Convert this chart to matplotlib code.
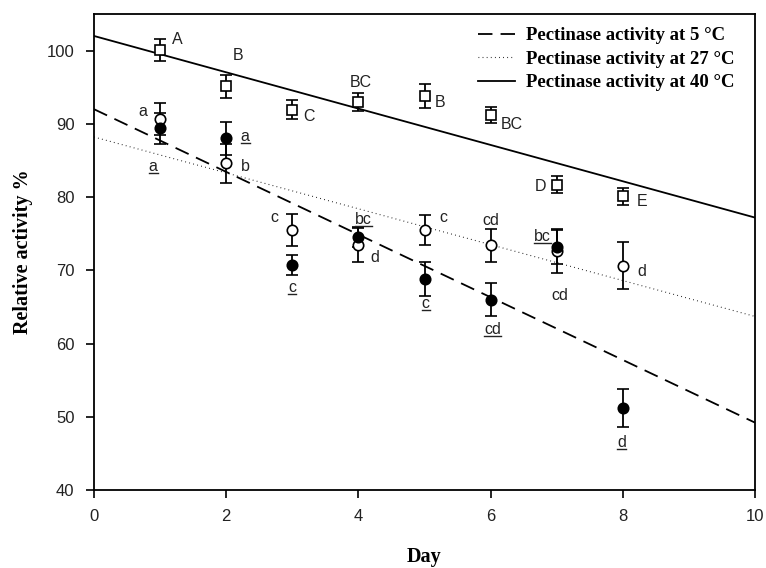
import numpy as np
import matplotlib
matplotlib.use("Agg")
import matplotlib.pyplot as plt
from matplotlib.lines import Line2D

days = [1, 2, 3, 4, 5, 6, 7, 8]

# 5 °C (filled circles)
act_5 = [89.4, 88.0, 70.7, 74.5, 68.8, 66.0, 73.2, 51.2]
err_5 = [2.1, 2.2, 1.4, 1.3, 2.3, 2.3, 2.3, 2.6]
lab_5 = ["a", "a", "c", "bc", "c", "cd", "bc", "d"]

# 27 °C (open circles)
act_27 = [90.7, 84.6, 75.5, 73.5, 75.5, 73.4, 72.6, 70.6]
err_27 = [2.2, 2.7, 2.2, 2.4, 2.1, 2.2, 3.0, 3.2]
lab_27 = ["a", "b", "c", "d", "c", "cd", "cd", "d"]

# 40 °C (open squares)
act_40 = [100.1, 95.1, 91.9, 93.0, 93.8, 91.2, 81.7, 80.1]
err_40 = [1.5, 1.6, 1.3, 1.2, 1.6, 1.1, 1.2, 1.2]
lab_40 = ["A", "B", "C", "BC", "B", "BC", "D", "E"]

# regression lines (intercept, slope)
fit_5 = (92.0, -4.28)
fit_27 = (88.2, -2.45)
fit_40 = (102.0, -2.48)

legend_labels = ["Pectinase activity at 5 \u00b0C",
                 "Pectinase activity at 27 \u00b0C",
                 "Pectinase activity at 40 \u00b0C"]

# label offsets in pixels (dx, dy)
off_5 = [(-7, -38), (19, 2), (0, -22), (5, 18), (1, -24), (2, -30), (-14, 10), (-1, -35)]
off_27 = [(-17, 7), (19, -3), (-18, 13), (16, -13), (19, 13), (0, 25), (3, -44), (19, -6)]
off_40 = [(17, 10), (12, 31), (17, -7), (2, 19), (16, -6), (21, -9), (-16, -2), (19, -5)]

fig = plt.figure(figsize=(7.66, 5.68), dpi=100)
ax = fig.add_axes([94 / 766, 1 - 490 / 568, (755 - 94) / 766, (490 - 14) / 568])

xx = np.array([0, 10])
h5, = ax.plot(xx, fit_5[0] + fit_5[1] * xx, color="black", lw=1.3, dashes=(8, 4.5))
h27, = ax.plot(xx, fit_27[0] + fit_27[1] * xx, color="black", lw=0.8, dashes=(0.7, 3.0))
h40, = ax.plot(xx, fit_40[0] + fit_40[1] * xx, color="black", lw=1.3)

ekw = dict(color="black", ecolor="black", elinewidth=1.3, capsize=4.5, capthick=1.3,
           linestyle="none", mec="black", mew=1.2, zorder=3)
ax.errorbar(days, act_40, yerr=err_40, marker="s", ms=7, mfc="white", **ekw)
ax.errorbar(days, act_27, yerr=err_27, marker="o", ms=7.5, mfc="white", **ekw)
ax.errorbar(days, act_5, yerr=err_5, marker="o", ms=7.5, mfc="black", **ekw)

tfont = dict(family="Liberation Sans", fontsize=11.5, color="#222222")
under_texts = []
for d, v, t, (dx, dy) in zip(days, act_40, lab_40, off_40):
    ax.annotate(t, (d, v), xytext=(dx, dy), textcoords="offset pixels",
                ha="center", va="center", **tfont)
for d, v, t, (dx, dy) in zip(days, act_27, lab_27, off_27):
    ax.annotate(t, (d, v), xytext=(dx, dy), textcoords="offset pixels",
                ha="center", va="center", **tfont)
for d, v, t, (dx, dy) in zip(days, act_5, lab_5, off_5):
    a = ax.annotate(t, (d, v), xytext=(dx, dy), textcoords="offset pixels",
                    ha="center", va="center", **tfont)
    under_texts.append(a)

ax.set_xlim(0, 10)
ax.set_ylim(40, 105)
ax.set_xticks([0, 2, 4, 6, 8, 10])
ax.set_yticks([40, 50, 60, 70, 80, 90, 100])
ax.tick_params(direction="out", length=6, width=1.2, labelsize=12, pad=8)
for lab in ax.get_xticklabels() + ax.get_yticklabels():
    lab.set_family("Liberation Sans")
    lab.set_color("#222222")
for s in ax.spines.values():
    s.set_linewidth(1.3)

ax.set_xlabel("Day", family="Liberation Serif", fontweight="bold", fontsize=14.5, labelpad=16)
ax.set_ylabel("Relative activity %", family="Liberation Serif", fontweight="bold",
              fontsize=14.5, labelpad=10)

ax.legend([h5, h27, h40], legend_labels, loc="upper right", frameon=False,
          bbox_to_anchor=(0.981, 0.988), borderaxespad=0,
          prop=dict(family="Liberation Serif", weight="bold", size=13.5),
          handlelength=2.0, labelspacing=0.34, handletextpad=0.6)

# underline the 5 °C letters
fig.canvas.draw()
r = fig.canvas.get_renderer()
W = fig.dpi * fig.get_figwidth()
H = fig.dpi * fig.get_figheight()
for a in under_texts:
    bb = a.get_window_extent(r)
    y = bb.y0 + 1
    fig.add_artist(Line2D([bb.x0 / W, bb.x1 / W], [y / H, y / H],
                          transform=fig.transFigure, color="#222222", lw=1.0))

fig.savefig("out.png", dpi=100)
